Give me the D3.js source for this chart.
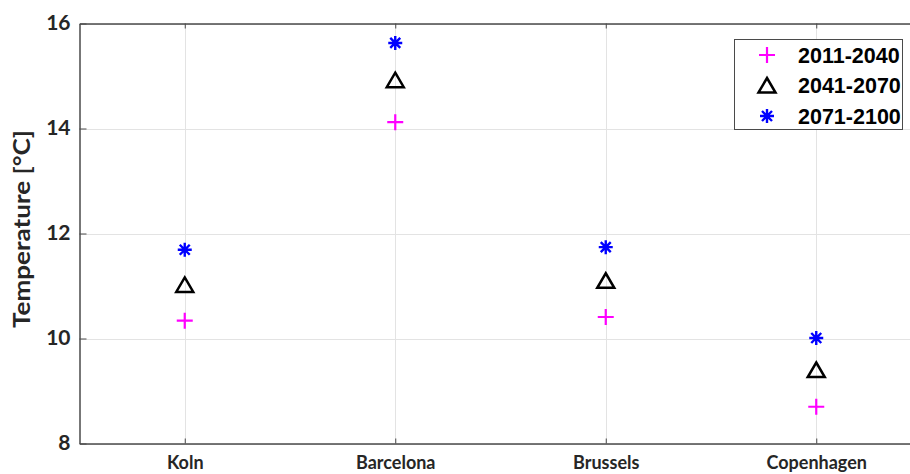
<!DOCTYPE html>
<html>
<head>
<meta charset="utf-8">
<script src="https://cdn.jsdelivr.net/npm/d3@7"></script>
<style>
  html, body { margin: 0; padding: 0; background: #fff; }
  svg { display: block; }
</style>
</head>
<body>
<svg id="chart" width="910" height="474"></svg>
<script>
const categories = ["Koln", "Barcelona", "Brussels", "Copenhagen"];
const seriesNames = ["2011-2040", "2041-2070", "2071-2100"];
const values2011_2040 = [10.34, 14.12, 10.41, 8.70];
const values2041_2070 = [11.02, 14.92, 11.10, 9.40];
const values2071_2100 = [11.69, 15.63, 11.74, 10.01];
const yTicks = [8, 10, 12, 14, 16];
const yLabel = "Temperature [°C]";

const series = [
  { name: seriesNames[0], values: values2011_2040, marker: "plus", color: "#ff00ff" },
  { name: seriesNames[1], values: values2041_2070, marker: "triangle", color: "#000000" },
  { name: seriesNames[2], values: values2071_2100, marker: "star", color: "#0000ff" }
];

const svg = d3.select("#chart");
const pLeft = 79.5, pRight = 921.5, pTop = 23.5, pBottom = 443.5;
const axisColor = "#4a4a4a";
const axisFont = "Lato, 'Open Sans', sans-serif";

const x = d3.scalePoint().domain(categories).range([pLeft, pRight]).padding(0.5);
const y = d3.scaleLinear().domain([8, 16]).range([pBottom, pTop]);

// grid
const grid = svg.append("g");
grid.selectAll("line.h").data(yTicks).enter().append("line")
  .attr("x1", pLeft).attr("x2", pRight)
  .attr("y1", d => Math.round(y(d)) + 0.5).attr("y2", d => Math.round(y(d)) + 0.5)
  .attr("stroke", "#e3e3e3").attr("stroke-width", 1);
grid.selectAll("line.v").data(categories).enter().append("line")
  .attr("x1", d => Math.round(x(d)) + 0.5).attr("x2", d => Math.round(x(d)) + 0.5)
  .attr("y1", pTop).attr("y2", pBottom)
  .attr("stroke", "#e3e3e3").attr("stroke-width", 1);

// axes
const yAxis = d3.axisLeft(y).tickValues(yTicks).tickSizeInner(-7).tickSizeOuter(0).tickPadding(9);
const gy = svg.append("g").attr("transform", `translate(${pLeft},0)`).call(yAxis);
gy.select(".domain").attr("stroke", axisColor).attr("stroke-width", 1.5);
gy.selectAll(".tick line").attr("stroke", axisColor).attr("stroke-width", 1);
gy.selectAll(".tick text").attr("fill", "#262626").attr("font-family", axisFont)
  .attr("font-weight", "bold").attr("font-size", 21).attr("dy", "0.3em");

const xAxis = d3.axisBottom(x).tickSizeInner(-5).tickSizeOuter(0).tickPadding(13);
const gx = svg.append("g").attr("transform", `translate(0,${pBottom})`).call(xAxis);
gx.select(".domain").attr("stroke", axisColor).attr("stroke-width", 1.5);
gx.selectAll(".tick line").attr("stroke", axisColor).attr("stroke-width", 1);
gx.selectAll(".tick text").attr("fill", "#262626").attr("font-family", axisFont)
  .attr("font-weight", "bold").attr("font-size", 18);

// top box edge
const xTop = d3.axisTop(x).tickSizeInner(-5).tickSizeOuter(0).tickFormat("");
const gxt = svg.append("g").attr("transform", `translate(0,${pTop})`).call(xTop);
gxt.select(".domain").attr("stroke", axisColor).attr("stroke-width", 1.5);
gxt.selectAll(".tick line").attr("stroke", axisColor).attr("stroke-width", 1);

// y label
svg.append("text")
  .attr("transform", `translate(30,229) rotate(-90)`)
  .attr("text-anchor", "middle")
  .attr("font-family", axisFont).attr("font-weight", "bold").attr("font-size", 22)
  .attr("textLength", 198).attr("lengthAdjust", "spacingAndGlyphs")
  .attr("fill", "#262626")
  .text(yLabel);

function drawMarker(g, type, color) {
  if (type === "plus") {
    g.append("path").attr("d", "M-8,0H8M0,-8V8")
      .attr("stroke", color).attr("stroke-width", 2.2).attr("fill", "none");
  } else if (type === "triangle") {
    g.append("path").attr("d", "M0,-7.5L8.5,7L-8.5,7Z")
      .attr("stroke", color).attr("stroke-width", 2.5).attr("fill", "none")
      .attr("stroke-linejoin", "miter");
  } else {
    g.append("path").attr("d", "M-7,0H7M0,-7V7M-5,-5L5,5M-5,5L5,-5")
      .attr("stroke", color).attr("stroke-width", 2.4).attr("fill", "none");
  }
}

// points
series.forEach(s => {
  const g = svg.append("g");
  s.values.forEach((v, i) => {
    const m = g.append("g").attr("transform", `translate(${x(categories[i])},${y(v)})`);
    drawMarker(m, s.marker, s.color);
  });
});

// legend
const lg = svg.append("g");
lg.append("rect").attr("x", 734.5).attr("y", 39.5).attr("width", 168).attr("height", 90)
  .attr("fill", "#fff").attr("stroke", "#4a4a4a").attr("stroke-width", 1);
series.forEach((s, i) => {
  const cy = 55 + i * 30.5;
  const m = lg.append("g").attr("transform", `translate(767,${cy})`);
  drawMarker(m, s.marker, s.color);
  lg.append("text").attr("x", 798).attr("y", cy).attr("dy", "0.36em")
    .attr("font-family", "'Liberation Sans', Arial, sans-serif").attr("font-weight", "bold")
    .attr("font-size", 21.5).attr("fill", "#000").text(s.name);
});
</script>
</body>
</html>
